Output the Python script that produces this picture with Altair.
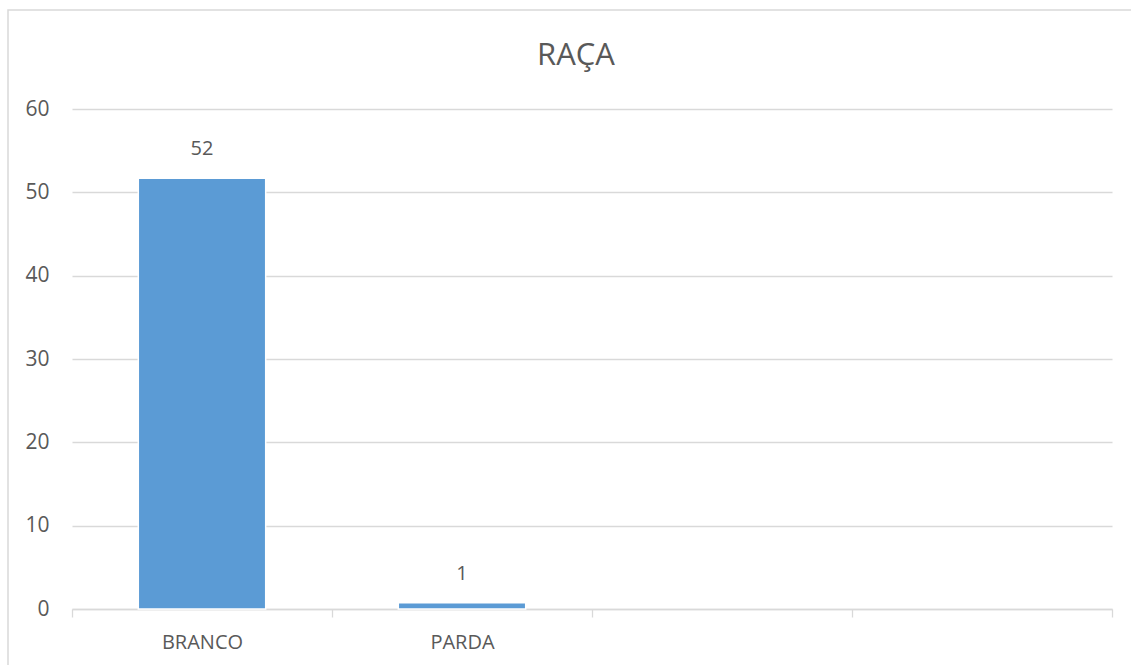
import altair as alt
import pandas as pd

categories = ["BRANCO", "PARDA", "", " "]
bar_categories = ["BRANCO", "PARDA"]
values = [51.7, 0.75]
y_ticks = [0, 10, 20, 30, 40, 50, 60]
title_text = "RAÇA"

df = pd.DataFrame({"cat": bar_categories, "val": values})

FONT = "Open Sans"
GRAY = "#595959"
LINE = "#D9D9D9"
BLUE = "#5B9BD5"

W, H = 1040, 500
PAD = {"left": 72, "top": 109, "right": 1131 - 72 - W, "bottom": 665 - 109 - H}

x_enc = alt.X(
    "cat:N",
    scale=alt.Scale(domain=categories, paddingInner=0, paddingOuter=0),
    sort=categories,
    axis=alt.Axis(
        title=None, labelAngle=0, labelFontSize=20, labelColor=GRAY, labelFont=FONT,
        labelPadding=15, domainColor=LINE, domainWidth=1.3, tickColor=LINE, tickSize=8,
        tickWidth=1.3, tickBand="extent", grid=False,
    ),
)
y_enc = alt.Y(
    "val:Q",
    scale=alt.Scale(domain=[0, 60], nice=False),
    axis=alt.Axis(
        title=None, values=y_ticks, labelFontSize=21, labelColor=GRAY, labelFont=FONT,
        labelPadding=23, domain=False, ticks=False, gridColor=LINE, gridWidth=1.3,
    ),
)

bars = alt.Chart(df).mark_bar(
    color=BLUE, width=alt.RelativeBandSize(0.49), stroke="white", strokeWidth=1.5
).encode(x=x_enc, y=y_enc)

labels = alt.Chart(df).mark_text(
    baseline="bottom", dy=-19, fontSize=20, font=FONT, color=GRAY
).encode(x=alt.X("cat:N", sort=categories), y="val:Q", text=alt.Text("val:Q", format=".0f"))

border = alt.Chart(alt.Data(values=[{}])).mark_rect(
    fill=None, stroke=LINE, strokeWidth=1.5
).encode(
    x=alt.value(8 - 72), y=alt.value(10 - 109), x2=alt.value(1131 - 72 + 20), y2=alt.value(665 - 109 + 20)
)

title = alt.Chart(alt.Data(values=[{"t": title_text}])).mark_text(
    fontSize=31, font=FONT, color=GRAY, baseline="alphabetic", align="center"
).encode(x=alt.value(576 - 72), y=alt.value(65 - 109), text="t:N")

chart = alt.layer(border, bars, labels, title).properties(
    width=W,
    height=H,
    padding=PAD,
    autosize=alt.AutoSizeParams(type="none"),
    background="white",
).configure_view(stroke=None)

chart.save("out.html", embed_options={"renderer": "svg", "actions": False})
